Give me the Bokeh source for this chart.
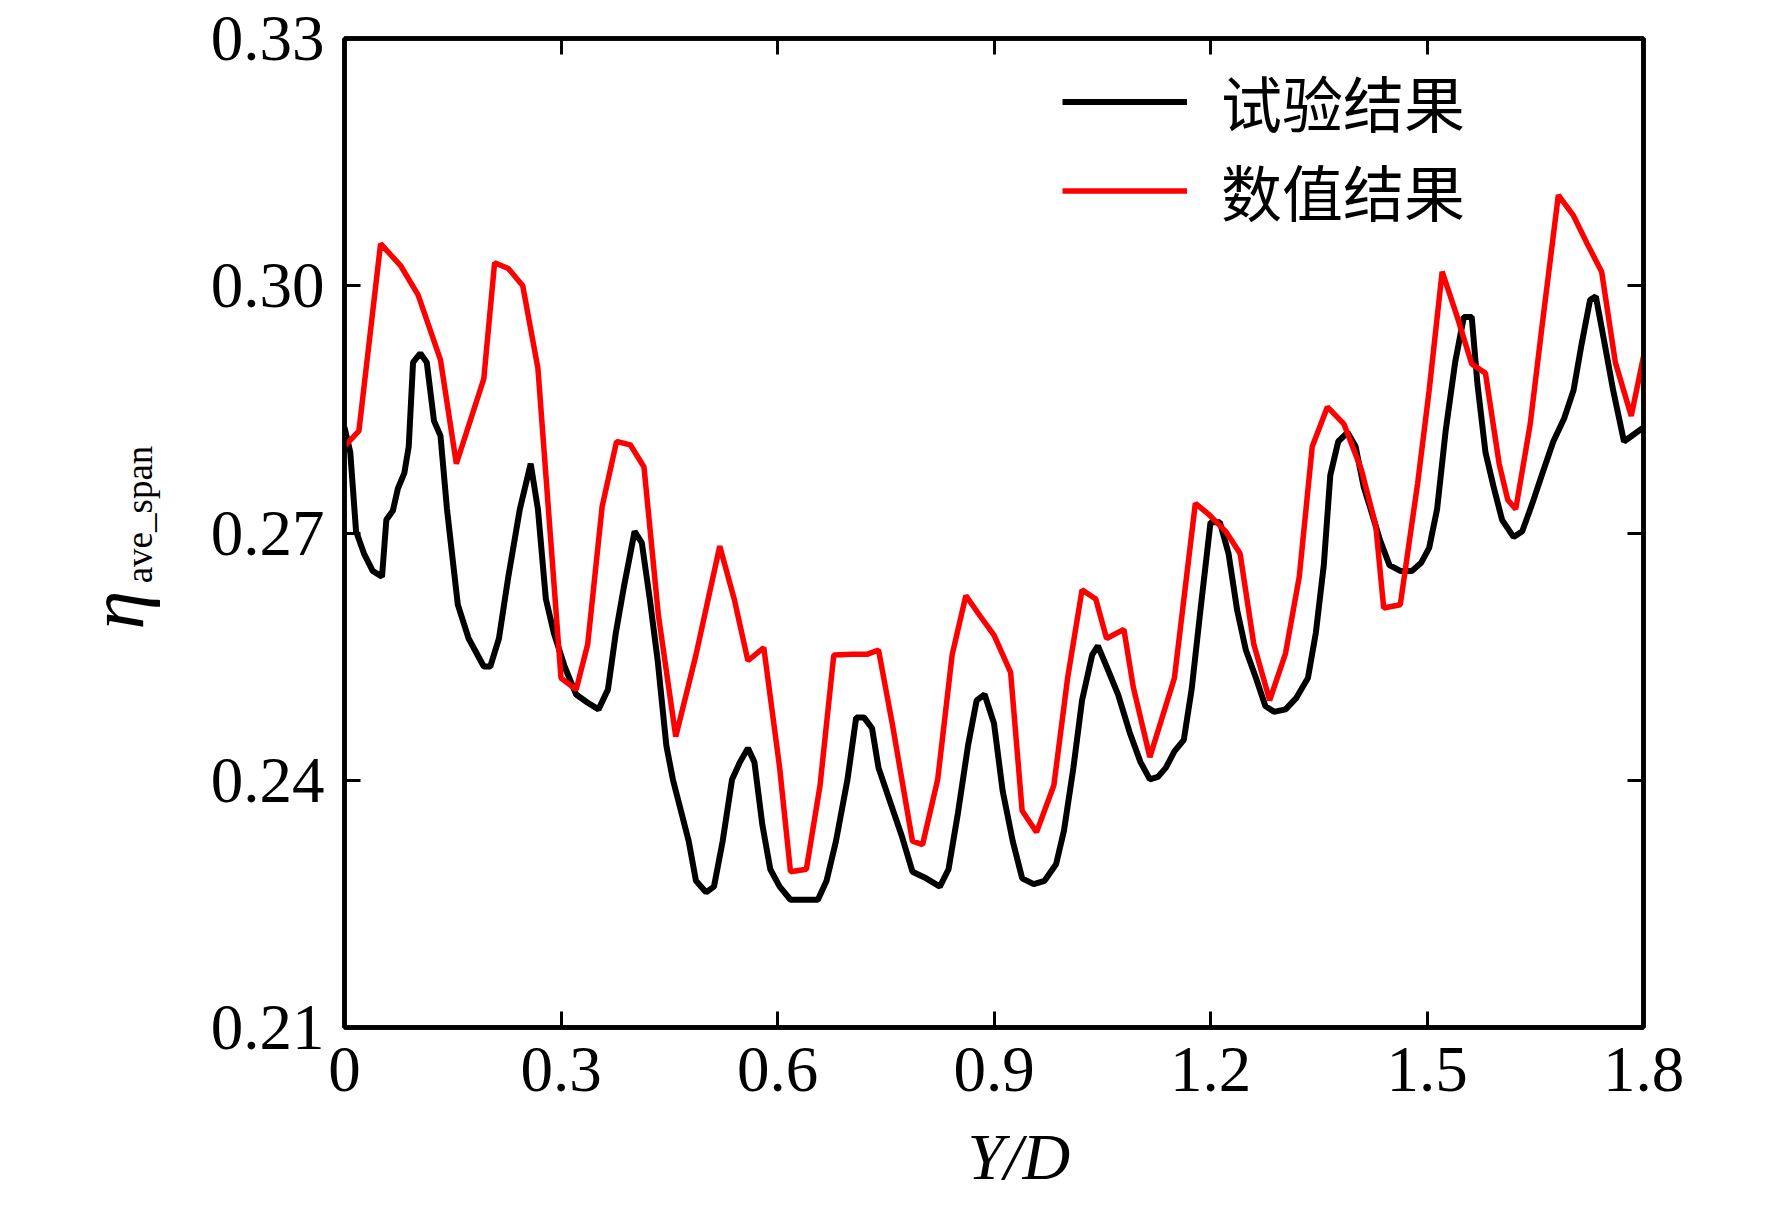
import math
from bokeh.plotting import figure
from bokeh.models import (LinearAxis, FixedTicker, NumeralTickFormatter, Title,
                          Range1d, CustomJSTickFormatter, Legend, LegendItem)
from bokeh.embed import file_html
from bokeh.resources import INLINE

# ---- data ----
x_exp = [0.000, 0.008, 0.016, 0.027, 0.039, 0.052, 0.058, 0.067, 0.074, 0.083, 0.089, 0.095,
         0.105, 0.114, 0.124, 0.133, 0.142, 0.157, 0.172, 0.193, 0.202, 0.214, 0.227, 0.243,
         0.258, 0.268, 0.279, 0.290, 0.305, 0.321, 0.337, 0.352, 0.365, 0.376, 0.387, 0.402,
         0.412, 0.423, 0.434, 0.446, 0.455, 0.465, 0.477, 0.487, 0.501, 0.512, 0.524, 0.537,
         0.548, 0.559, 0.568, 0.579, 0.590, 0.603, 0.618, 0.637, 0.656, 0.668, 0.681, 0.697,
         0.709, 0.720, 0.731, 0.740, 0.756, 0.772, 0.787, 0.806, 0.825, 0.837, 0.850, 0.864,
         0.876, 0.887, 0.900, 0.912, 0.926, 0.939, 0.955, 0.970, 0.986, 0.997, 1.010, 1.022,
         1.036, 1.044, 1.056, 1.072, 1.088, 1.103, 1.116, 1.127, 1.138, 1.150, 1.163, 1.174,
         1.186, 1.200, 1.213, 1.225, 1.237, 1.249, 1.263, 1.276, 1.288, 1.304, 1.319, 1.335,
         1.346, 1.357, 1.366, 1.377, 1.390, 1.401, 1.412, 1.424, 1.435, 1.448, 1.463, 1.479,
         1.492, 1.503, 1.514, 1.526, 1.539, 1.551, 1.562, 1.570, 1.581, 1.592, 1.604, 1.620,
         1.632, 1.646, 1.659, 1.675, 1.690, 1.703, 1.714, 1.726, 1.734, 1.745, 1.758, 1.773,
         1.784, 1.800]
y_exp = [0.2828, 0.2798, 0.2702, 0.2675, 0.2654, 0.2647, 0.2716, 0.2727, 0.2754, 0.2773, 0.2805, 0.2907,
         0.2918, 0.2907, 0.2836, 0.2818, 0.2729, 0.2613, 0.2572, 0.2538, 0.2538, 0.2572, 0.2647, 0.2729,
         0.2784, 0.2729, 0.2620, 0.2579, 0.2538, 0.2504, 0.2494, 0.2486, 0.2510, 0.2579, 0.2634, 0.2702,
         0.2688, 0.2620, 0.2545, 0.2442, 0.2401, 0.2367, 0.2326, 0.2278, 0.2264, 0.2271, 0.2326, 0.2401,
         0.2422, 0.2439, 0.2422, 0.2346, 0.2292, 0.2271, 0.2255, 0.2255, 0.2255, 0.2278, 0.2326, 0.2401,
         0.2476, 0.2476, 0.2463, 0.2415, 0.2374, 0.2333, 0.2289, 0.2281, 0.2271, 0.2292, 0.2360, 0.2442,
         0.2497, 0.2504, 0.2469, 0.2387, 0.2326, 0.2281, 0.2274, 0.2278, 0.2298, 0.2339, 0.2415, 0.2497,
         0.2552, 0.2563, 0.2538, 0.2504, 0.2458, 0.2422, 0.2401, 0.2404, 0.2415, 0.2435, 0.2449, 0.2511,
         0.2606, 0.2713, 0.2713, 0.2675, 0.2606, 0.2558, 0.2524, 0.2490, 0.2483, 0.2486, 0.2500, 0.2524,
         0.2579, 0.2661, 0.2770, 0.2811, 0.2822, 0.2805, 0.2757, 0.2723, 0.2691, 0.2661, 0.2654, 0.2654,
         0.2664, 0.2682, 0.2729, 0.2825, 0.2907, 0.2962, 0.2962, 0.2880, 0.2798, 0.2757, 0.2716, 0.2695,
         0.2702, 0.2736, 0.2770, 0.2811, 0.2839, 0.2873, 0.2928, 0.2983, 0.2987, 0.2935, 0.2873, 0.2811,
         0.2818, 0.2828]

x_num = [0.000, 0.020, 0.050, 0.078, 0.102, 0.133, 0.155, 0.193, 0.208, 0.227, 0.247, 0.268,
         0.300, 0.321, 0.337, 0.357, 0.377, 0.396, 0.415, 0.435, 0.459, 0.487, 0.520, 0.540,
         0.559, 0.581, 0.603, 0.618, 0.640, 0.659, 0.678, 0.704, 0.725, 0.740, 0.759, 0.787,
         0.801, 0.822, 0.842, 0.861, 0.881, 0.900, 0.923, 0.939, 0.959, 0.983, 1.002, 1.022,
         1.041, 1.056, 1.080, 1.093, 1.116, 1.150, 1.179, 1.197, 1.221, 1.241, 1.260, 1.282,
         1.304, 1.323, 1.341, 1.362, 1.385, 1.409, 1.429, 1.440, 1.463, 1.487, 1.503, 1.521,
         1.542, 1.562, 1.581, 1.600, 1.612, 1.623, 1.643, 1.659, 1.682, 1.703, 1.722, 1.742,
         1.761, 1.783, 1.800]
y_num = [0.2805, 0.2824, 0.3051, 0.3024, 0.2989, 0.2910, 0.2784, 0.2887, 0.3028, 0.3021, 0.3000, 0.2900,
         0.2524, 0.2510, 0.2565, 0.2732, 0.2811, 0.2807, 0.2780, 0.2600, 0.2453, 0.2552, 0.2684, 0.2620,
         0.2545, 0.2561, 0.2415, 0.2289, 0.2292, 0.2394, 0.2552, 0.2553, 0.2553, 0.2558, 0.2469, 0.2326,
         0.2322, 0.2401, 0.2552, 0.2624, 0.2599, 0.2576, 0.2531, 0.2363, 0.2337, 0.2394, 0.2524, 0.2631,
         0.2620, 0.2572, 0.2583, 0.2513, 0.2428, 0.2524, 0.2736, 0.2723, 0.2702, 0.2675, 0.2565, 0.2497,
         0.2554, 0.2647, 0.2805, 0.2853, 0.2832, 0.2777, 0.2709, 0.2609, 0.2613, 0.2760, 0.2873, 0.3017,
         0.2962, 0.2905, 0.2894, 0.2784, 0.2740, 0.2729, 0.2832, 0.2948, 0.3110, 0.3085, 0.3051, 0.3017,
         0.2907, 0.2842, 0.2914]

x_ticks = [0, 0.3, 0.6, 0.9, 1.2, 1.5, 1.8]
y_ticks = [0.21, 0.24, 0.27, 0.30, 0.33]
series_names = ["试验结果", "数值结果"]
x_title = "Y/D"
y_title_main = "η"
y_title_sub = "ave_span"

SERIF = "Liberation Serif"
CJK = "Noto Sans CJK SC"
NB = "\u00a0"

p = figure(frame_width=1299, frame_height=989,
           x_range=Range1d(0, 1.8), y_range=Range1d(0.21, 0.33),
           output_backend="svg", toolbar_location=None,
           min_border_left=344, min_border_top=38, min_border_right=100, min_border_bottom=140,
           background_fill_color="white", border_fill_color="white")
p.grid.visible = False
p.outline_line_color = "black"
p.outline_line_width = 4.5

r_exp = p.line(x_exp, y_exp, line_color="black", line_width=6)
r_num = p.line(x_num, y_num, line_color="#ff0000", line_width=5.5)

def style_axis(ax, show_labels):
    ax.axis_line_color = "black"
    ax.axis_line_width = 4.5
    ax.major_tick_line_color = "black"
    ax.major_tick_line_width = 3
    ax.major_tick_in = 16
    ax.major_tick_out = 0
    ax.minor_tick_line_color = None
    if not show_labels:
        ax.major_label_text_font_size = "0px"
        ax.major_label_standoff = 0
        ax.formatter = CustomJSTickFormatter(code="return ''")
    else:
        ax.major_label_text_font = SERIF
        ax.major_label_text_font_size = "65px"
        ax.major_label_text_color = "black"

xa = p.xaxis[0]
xa.ticker = FixedTicker(ticks=x_ticks)
xa.formatter = NumeralTickFormatter(format="0.[0]")
style_axis(xa, True)
xa.major_label_standoff = 20
xa.axis_label = NB * 3 + x_title
xa.axis_label_text_font = SERIF
xa.axis_label_text_font_style = "italic"
xa.axis_label_text_font_size = "66px"
xa.axis_label_text_color = "black"
xa.axis_label_standoff = 26

ya = p.yaxis[0]
ya.ticker = FixedTicker(ticks=y_ticks)
ya.formatter = NumeralTickFormatter(format="0.00")
style_axis(ya, True)
ya.major_label_standoff = 20
# subscript part of the y title sits right next to the tick labels
ya.axis_label = NB * 4 + y_title_sub
ya.axis_label_text_font = SERIF
ya.axis_label_text_font_style = "normal"
ya.axis_label_text_font_size = "37px"
ya.axis_label_text_color = "black"
ya.axis_label_standoff = 48

top = LinearAxis(ticker=FixedTicker(ticks=x_ticks))
style_axis(top, False)
p.add_layout(top, "above")
right = LinearAxis(ticker=FixedTicker(ticks=y_ticks))
style_axis(right, False)
p.add_layout(right, "right")

# main symbol of the y title
eta = Title(text=y_title_main, align="left", offset=398, vertical_align="bottom",
            standoff=-88, text_font=SERIF, text_font_style="italic",
            text_font_size="78px", text_color="black")
p.add_layout(eta, "left")

def make_legend(name, renderer, loc):
    lg = Legend(items=[LegendItem(label=name, renderers=[renderer])], location=loc)
    lg.border_line_color = None
    lg.background_fill_alpha = 0
    lg.padding = 0
    lg.margin = 0
    lg.spacing = 0
    lg.glyph_width = 125
    lg.glyph_height = 81
    lg.label_height = 81
    lg.label_standoff = 34
    lg.label_text_font = CJK
    lg.label_text_font_size = "61px"
    lg.label_text_color = "black"
    p.add_layout(lg, "center")

make_legend(series_names[0], r_exp, (718, 881))
make_legend(series_names[1], r_num, (718, 792))

open("out.html", "w").write(file_html(p, INLINE))
